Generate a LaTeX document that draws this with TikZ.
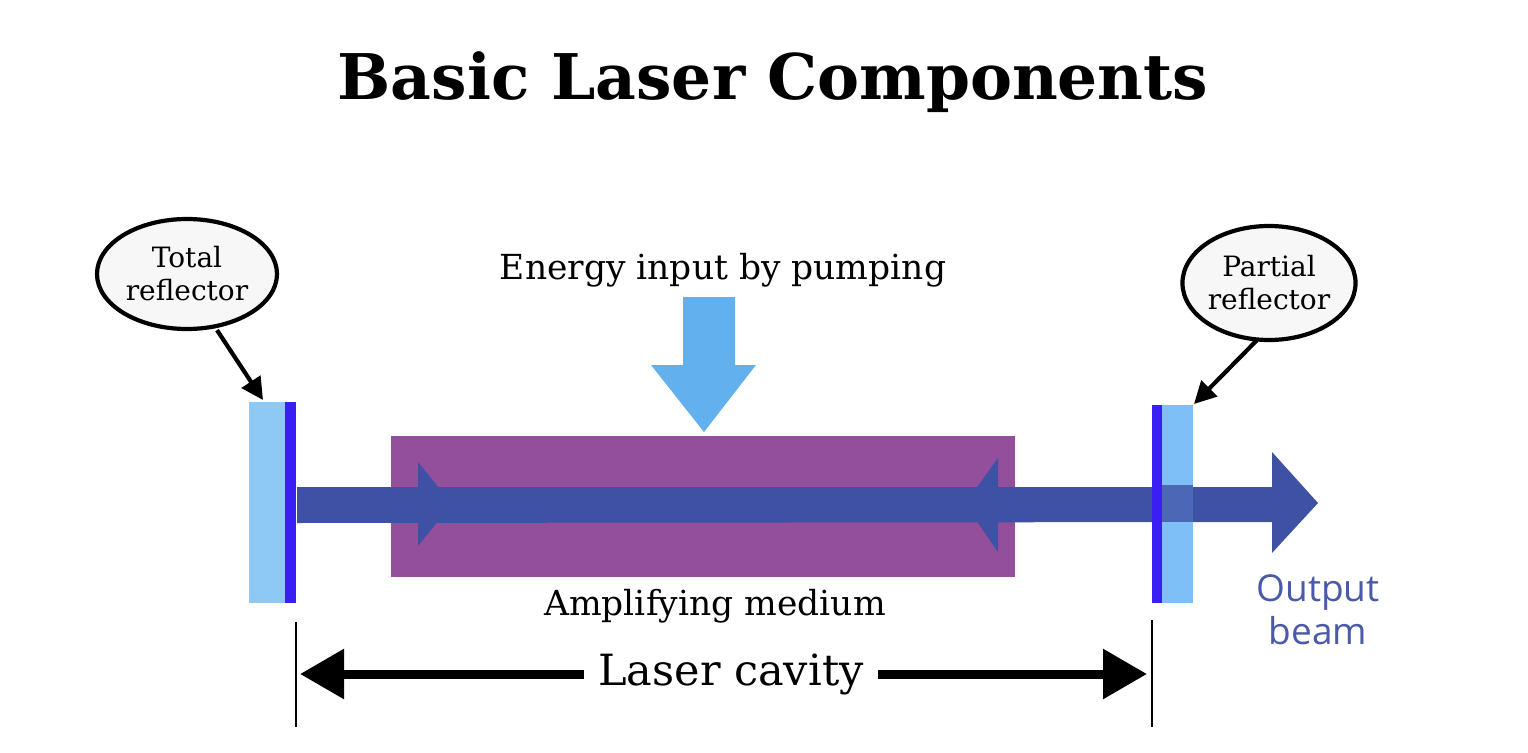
\documentclass[tikz,border=0pt]{standalone}
\usepackage{fontspec}
\setmainfont{DejaVu Serif}
\newfontfamily\outfont{Open Sans}
\usetikzlibrary{shapes.geometric,arrows.meta}
\definecolor{mirlight}{HTML}{8EC8F5}
\definecolor{mirlightb}{HTML}{7FBFF8}
\definecolor{mirdark}{HTML}{3A1FF5}
\definecolor{mediumc}{HTML}{934F9B}
\definecolor{beamc}{HTML}{3F51A5}
\definecolor{pumpc}{HTML}{63B0EE}
\definecolor{outtxt}{HTML}{4B5AA8}
\definecolor{bubble}{HTML}{F7F7F7}
\tikzset{
  bubblebox/.style={ellipse, draw=black, line width=4.2pt, fill=bubble, inner sep=0pt,
    align=center, font=\fontsize{28}{33}\selectfont},
  callout/.style={line width=4.2pt, -{Triangle[length=22pt,width=22pt]}},
  plate/.style={rectangle, inner sep=0pt, draw=none},
  label/.style={inner sep=0pt, font=\fontsize{34.5}{40}\selectfont},
  dimline/.style={line width=1.6pt},
  dimarrow/.style={line width=9pt, -{Triangle[length=44pt,width=48pt]}},
}
\begin{document}
\begin{tikzpicture}[x=1pt,y=-1pt]
\useasboundingbox (0,0) rectangle (1528,752);
\fill[white] (0,0) rectangle (1528,752);

% title
\node[inner sep=0pt, font=\fontsize{63}{70}\selectfont\bfseries] (title) at (773,82) {Basic Laser Components};

% amplifying medium
\node[plate, fill=mediumc, minimum width=624pt, minimum height=141pt] (med) at (703,506.5) {};

% beam
\fill[beamc] (297,487) -- (1272,487) -- (1272,452) -- (1318,503) -- (1272,553) -- (1272,522) -- (297,523) -- cycle;
\fill[beamc] (418,462) -- (452,504) -- (418,546) -- cycle;
\fill[beamc] (998,458) -- (965,504) -- (998,552) -- cycle;

% mirrors
\node[plate, fill=mirlight, minimum width=37pt, minimum height=201pt] (mL) at (267.5,502.5) {};
\node[plate, fill=mirdark, minimum width=11pt, minimum height=201pt] (mLd) at (290.5,502.5) {};
\node[plate, fill=mirdark, minimum width=10pt, minimum height=198pt] (mRd) at (1157,504) {};
\node[plate, fill=mirlightb, minimum width=31pt, minimum height=198pt] (mR) at (1177.5,504) {};
\fill[beamc, opacity=0.8] (1162,485) rectangle (1193,522);

% pump arrow
\fill[pumpc] (683,297) -- (735,297) -- (735,365) -- (756,365) -- (704,432) -- (651,365) -- (683,365) -- cycle;
\node[label] (energy) at (723,270) {Energy input by pumping};
\node[label] (amp) at (715,606) {Amplifying medium};

% callouts
\node[bubblebox, minimum width=180pt, minimum height=110pt] (tot) at (187,274) {Total\\reflector};
\node[bubblebox, minimum width=172pt, minimum height=114pt] (par) at (1269,283) {Partial\\reflector};
\coordinate (totEnd) at (263,400);
\coordinate (parEnd) at (1194,404);
\draw[callout] (tot.south) ++(30,-1) coordinate (totStart) -- (totEnd);
\draw[callout] (par.south) ++(-12,-2) coordinate (parStart) -- (parEnd);

% laser cavity
\coordinate (cL1) at (296,622); \coordinate (cL2) at (296,727);
\coordinate (cR1) at (1152,620); \coordinate (cR2) at (1152,727);
\draw[dimline] (cL1) -- (cL2);
\draw[dimline] (cR1) -- (cR2);
\node[inner sep=0pt, font=\fontsize{43}{50}\selectfont] (cav) at (731,674) {Laser cavity};
\coordinate (cavL) at (300,674);
\coordinate (cavR) at (1147,674);
\draw[dimarrow] (cav.west) ++(-14,0) -- (cavL);
\draw[dimarrow] (cav.east) ++(14,0) -- (cavR);

% output beam
\node[inner sep=0pt, align=center, text=outtxt, font=\outfont\fontsize{37}{43}\selectfont] (out) at (1318,610) {Output\\beam};
\end{tikzpicture}
\end{document}
